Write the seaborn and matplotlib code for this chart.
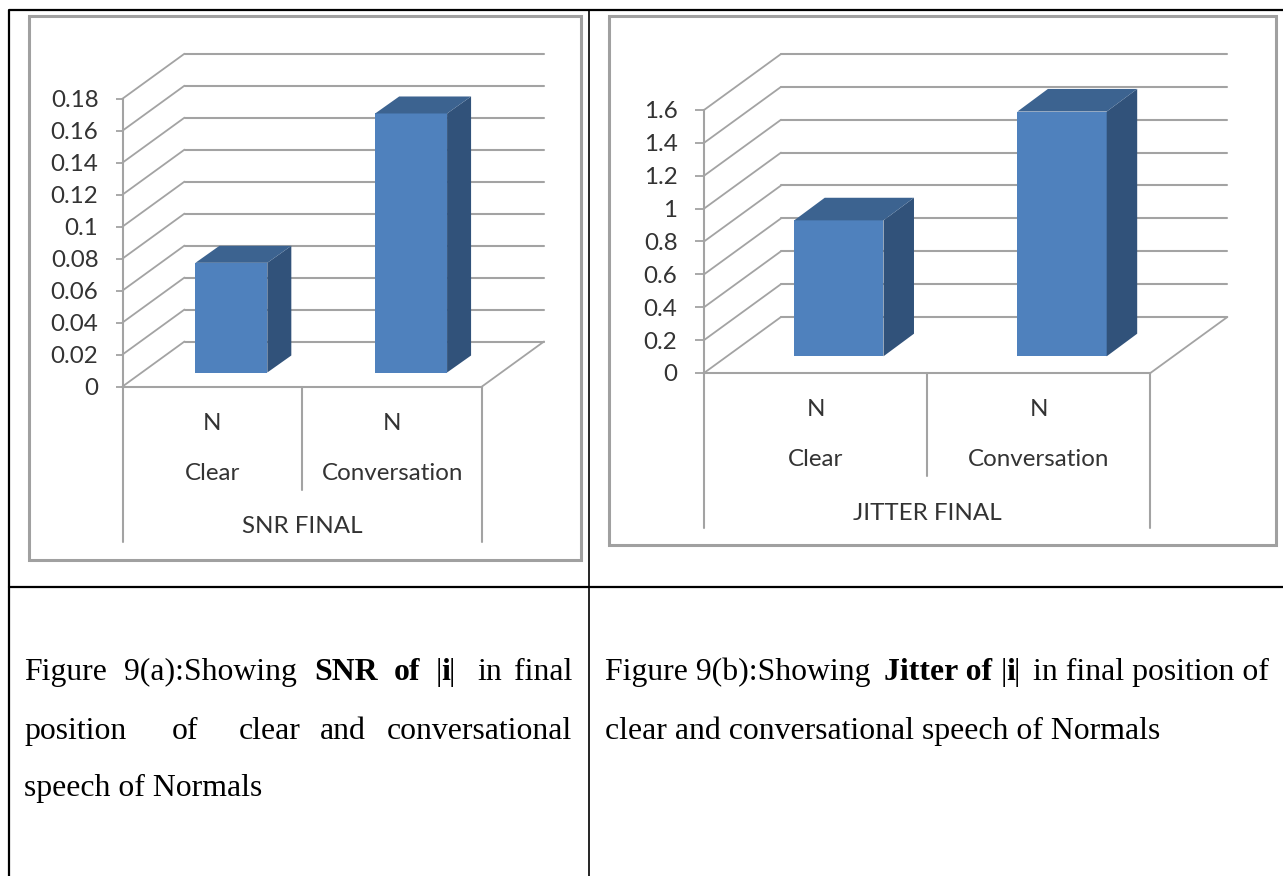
import matplotlib
matplotlib.use("Agg")
import matplotlib.pyplot as plt
from matplotlib.patches import Polygon, Rectangle
from matplotlib.transforms import Affine2D, IdentityTransform
import pandas as pd
import seaborn as sns

W, H = 1283, 876

conditions = ["Clear", "Conversation"]
group_labels = ["N", "N"]

snr_values = [0.0686, 0.162]
snr_ticks = [0, 0.02, 0.04, 0.06, 0.08, 0.1, 0.12, 0.14, 0.16, 0.18]
snr_tick_labels = ["0", "0.02", "0.04", "0.06", "0.08", "0.1", "0.12", "0.14", "0.16", "0.18"]

jitter_values = [0.827, 1.489]
jitter_ticks = [0, 0.2, 0.4, 0.6, 0.8, 1, 1.2, 1.4, 1.6]
jitter_tick_labels = ["0", "0.2", "0.4", "0.6", "0.8", "1", "1.2", "1.4", "1.6"]

GRID = "#a3a3a3"
FRONT = "#4f81bd"
SIDE = "#31527a"
TOP = "#3c6390"
INK = "#333333"
LABEL_FONT = ["Lato", "DejaVu Sans"]
LABEL_SIZE = 17.4

sns.set_theme(style="white")
plt.rcParams["font.family"] = LABEL_FONT


def DrawChart(fig, box, wall, bar_depth, tick_len, values, ticks, tick_labels, title, ymax):
    left, right, top, bottom = box
    dx, dy = wall
    ax = fig.add_axes([left / W, 1 - bottom / H, (right - left) / W, (bottom - top) / H])
    ax.patch.set_visible(False)
    df = pd.DataFrame({"condition": conditions, "value": values})
    sns.barplot(data=df, x="condition", y="value", color=FRONT, saturation=1, width=0.4, ax=ax, zorder=3)
    ax.set_xlim(-0.5, 1.5)
    ax.set_ylim(0, ymax)
    ax.autoscale(False)
    ax.set_xlabel("")
    ax.set_ylabel("")

    back = ax.transData + Affine2D().translate(dx, dy)
    for t in ticks:
        ax.plot([-0.5, 1.5], [t, t], color=GRID, lw=1.5, transform=back, clip_on=False, zorder=1)
        x0, y0 = ax.transData.transform((-0.5, t))
        ax.plot([x0, x0 + dx], [y0, y0 + dy], color=GRID, lw=1.3, transform=IdentityTransform(), clip_on=False, zorder=1)

    # floor edge on the right
    x0, y0 = ax.transData.transform((1.5, 0))
    ax.plot([x0, x0 + dx], [y0, y0 + dy], color=GRID, lw=1.3, transform=IdentityTransform(), clip_on=False, zorder=1)

    # bars sit half way into the floor
    bx, by = bar_depth
    shift_x, shift_y = (dx - bx) / 2, (dy - by) / 2
    front = ax.transData + Affine2D().translate(shift_x, shift_y)
    for bar in ax.patches[:len(values)]:
        bar.set_transform(front)
        bar.set_linewidth(0)
        bar.set_clip_on(False)
        (xa, ya), (xb, yb) = front.transform([(bar.get_x(), 0), (bar.get_x() + bar.get_width(), bar.get_height())])
        ax.add_patch(Polygon([(xb, ya), (xb + bx, ya + by), (xb + bx, yb + by), (xb, yb)], closed=True, fc=SIDE, lw=0,
                             transform=IdentityTransform(), clip_on=False, zorder=3))
        ax.add_patch(Polygon([(xa, yb), (xb, yb), (xb + bx, yb + by), (xa + bx, yb + by)], closed=True, fc=TOP, lw=0,
                             transform=IdentityTransform(), clip_on=False, zorder=3))

    sns.despine(ax=ax, top=True, right=True)
    for side in ["left", "bottom"]:
        ax.spines[side].set_color(GRID)
        ax.spines[side].set_linewidth(1.5)
    ax.set_yticks(ticks, tick_labels)
    ax.tick_params(axis="y", length=tick_len, width=1.3, color=GRID, pad=17.5 * 0.72, labelsize=LABEL_SIZE, labelcolor=INK, left=True)
    for label in ax.get_yticklabels():
        label.set_verticalalignment("center_baseline")
    ax.set_xticks([0, 1], group_labels)
    ax.tick_params(axis="x", length=0, pad=19, labelsize=LABEL_SIZE, labelcolor=INK)

    # multi level category axis below the plot
    xt = ax.get_xaxis_transform()
    px = 1 / (bottom - top)
    ax.plot([0.5, 0.5], [0, -103 * px], color=GRID, lw=1.5, transform=xt, clip_on=False)
    for xv in [-0.5, 1.5]:
        ax.plot([xv, xv], [0, -155 * px], color=GRID, lw=1.5, transform=xt, clip_on=False)
    for i, name in enumerate(conditions):
        ax.text(i, -87 * px, name, transform=xt, ha="center", va="center", fontsize=LABEL_SIZE, color=INK)
    ax.text(0.5, -140 * px, title, transform=xt, ha="center", va="center", fontsize=LABEL_SIZE, color=INK)
    return ax


fig = plt.figure(figsize=(W / 100, H / 100), dpi=100, facecolor="white")

# page layer: table rules, chart frames and captions, in pixels
page = fig.add_axes([0, 0, 1, 1])
page.set_xlim(0, W)
page.set_ylim(H, 0)
page.axis("off")
page.plot([9, 9, W], [H, 10, 10], color="black", lw=1.6, clip_on=False)
page.plot([9, W], [587, 587], color="black", lw=1.6)
page.plot([589, 589], [10, H], color="black", lw=1.2)
page.add_patch(Rectangle((29, 16), 552, 544, fc="white", ec="#a0a0a0", lw=2.2))
page.add_patch(Rectangle((609, 16), 667, 529, fc="white", ec="#a0a0a0", lw=2.2))

SERIF = "Liberation Serif"
CAPTION_SIZE = 22.9
caption_words = [
    (24.5, 680, "Figure", "normal"), (124, 680, "9(a):Showing", "normal"), (314, 680, "SNR", "bold"),
    (394, 680, "of", "bold"), (436, 680, "|", "normal"), (441, 680, "i", "bold"), (449, 680, "|", "normal"),
    (477, 680, "in", "normal"), (514, 680, "final", "normal"),
    (24.5, 739, "position", "normal"), (172, 739, "of", "normal"), (239, 739, "clear", "normal"),
    (320, 739, "and", "normal"), (387, 739, "conversational", "normal"),
    (24.5, 796, "speech of Normals", "normal"),
    (605, 680, "Figure 9(b):Showing", "normal"), (884, 680, "Jitter of", "bold"), (1001, 680, "|", "normal"),
    (1006, 680, "i", "bold"), (1014, 680, "|", "normal"), (1033, 680, "in final position of", "normal"),
    (605, 739, "clear and conversational speech of Normals", "normal"),
]
for x, y, word, weight in caption_words:
    page.text(x, y, word, family=SERIF, fontsize=CAPTION_SIZE, fontweight=weight, color="black", va="baseline", ha="left")

DrawChart(fig, (122.5, 482, 98.7, 386.5), (62, 45), (24, 17), 4.7, snr_values, snr_ticks, snr_tick_labels, "SNR FINAL", 0.18)
DrawChart(fig, (704, 1150.4, 110, 373), (77, 56), (30.5, 22.6), 6.5, jitter_values, jitter_ticks, jitter_tick_labels, "JITTER FINAL", 1.6)

fig.savefig("out.png", dpi=100)
